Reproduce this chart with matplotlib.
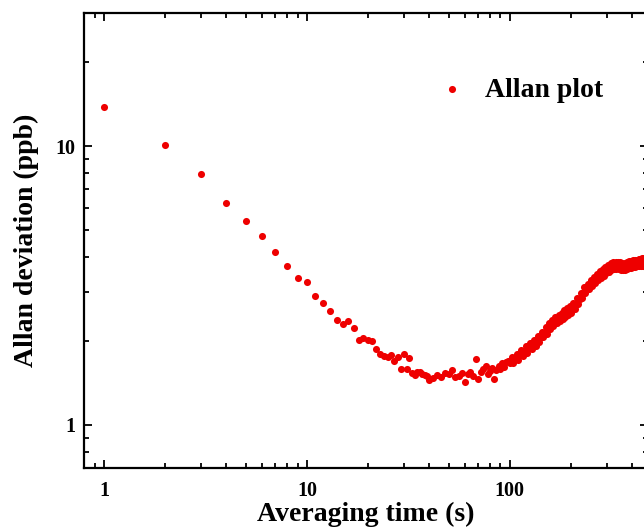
import matplotlib
matplotlib.use("Agg")
import matplotlib.pyplot as plt
from matplotlib.ticker import LogLocator, FixedLocator, FixedFormatter, NullFormatter

plt.rcParams["font.family"] = ["Liberation Serif", "DejaVu Serif"]
plt.rcParams["font.weight"] = "bold"

# averaging time (s)
tau = [
    1, 2, 3, 4, 5, 6, 7, 8, 9, 10,
    11, 12, 13, 14, 15, 16, 17, 18, 19, 20,
    21, 22, 23, 24, 25, 26, 27, 28, 29, 30,
    31, 32, 33, 34, 35, 36, 37, 38, 39, 40,
    42, 44, 46, 48, 50, 52, 54, 56, 58, 60,
    62, 64, 66, 68, 70, 72, 74, 76, 78, 80,
    82, 84, 86, 88, 90, 92, 94, 96, 98, 100,
    102, 104, 106, 108, 110, 112, 114, 116, 118, 120,
    122, 124, 126, 128, 130, 132, 134, 136, 138, 140,
    142, 144, 146, 148, 150, 152, 154, 156, 158, 160,
    162, 164, 166, 168, 170, 172, 174, 176, 178, 180,
    182, 184, 186, 188, 190, 192, 194, 196, 198, 200,
    203, 206, 209, 212, 215, 218, 221, 224, 227, 230,
    233, 236, 239, 242, 245, 248, 251, 254, 257, 260,
    263, 266, 269, 272, 275, 278, 281, 284, 287, 290,
    293, 296, 299, 302, 305, 308, 311, 314, 317, 320,
    323, 326, 329, 332, 335, 338, 341, 344, 347, 350,
    353, 356, 359, 362, 365, 368, 371, 374, 377, 380,
    383, 386, 389, 392, 395, 398, 401, 404, 407, 410,
    413, 416, 419, 422, 425, 428, 431, 434, 437, 440,
    443, 446, 449, 452, 455, 458, 461, 464, 467, 470,
]

# Allan deviation (ppb)
adev = [
    13.8, 10.1, 7.92, 6.26, 5.39, 4.76, 4.18, 3.72, 3.35, 3.26,
    2.89, 2.74, 2.57, 2.38, 2.30, 2.35, 2.23, 2.02, 2.04, 2.01,
    1.99, 1.87, 1.80, 1.76, 1.75, 1.78, 1.70, 1.75, 1.59, 1.80,
    1.59, 1.74, 1.53, 1.51, 1.55, 1.55, 1.52, 1.51, 1.50, 1.45,
    1.47, 1.51, 1.48, 1.53, 1.52, 1.57, 1.49, 1.50, 1.54, 1.42,
    1.52, 1.55, 1.50, 1.72, 1.46, 1.55, 1.59, 1.63, 1.52, 1.56,
    1.60, 1.46, 1.57, 1.62, 1.58, 1.66, 1.61, 1.68, 1.70, 1.66,
    1.75, 1.66, 1.72, 1.79, 1.71, 1.78, 1.85, 1.77, 1.84, 1.91,
    1.81, 1.89, 1.97, 1.87, 1.94, 2.02, 1.92, 2.00, 2.08, 1.98,
    2.07, 2.15, 2.06, 2.14, 2.24, 2.12, 2.22, 2.31, 2.20, 2.29,
    2.38, 2.26, 2.35, 2.44, 2.31, 2.40, 2.48, 2.36, 2.44, 2.52,
    2.40, 2.48, 2.58, 2.43, 2.53, 2.62, 2.48, 2.57, 2.67, 2.52,
    2.63, 2.74, 2.61, 2.72, 2.84, 2.72, 2.83, 2.97, 2.84, 2.98,
    3.11, 2.97, 3.09, 3.21, 3.06, 3.18, 3.31, 3.14, 3.27, 3.40,
    3.22, 3.35, 3.47, 3.30, 3.42, 3.55, 3.37, 3.49, 3.63, 3.43,
    3.56, 3.69, 3.49, 3.62, 3.74, 3.54, 3.66, 3.79, 3.59, 3.71,
    3.83, 3.62, 3.74, 3.85, 3.63, 3.74, 3.85, 3.62, 3.73, 3.83,
    3.60, 3.71, 3.81, 3.59, 3.70, 3.81, 3.59, 3.71, 3.83, 3.62,
    3.74, 3.86, 3.65, 3.76, 3.88, 3.66, 3.78, 3.89, 3.68, 3.79,
    3.91, 3.69, 3.80, 3.91, 3.70, 3.81, 3.93, 3.71, 3.82, 3.93,
    3.72, 3.83, 3.96, 3.72, 3.84, 3.97, 3.73, 3.85, 3.98, 3.74,
]

x_ticks = [1, 10, 100]
x_tick_labels = ["1", "10", "100"]
y_ticks = [1, 10]
y_tick_labels = ["1", "10"]

W, H = 644, 528
fig = plt.figure(figsize=(W / 100, H / 100), dpi=100)
# right spine sits just past the right edge of the picture (cropped like the original)
ax = fig.add_axes([84 / W, 60 / H, (648 - 84) / W, (468 - 13) / H])

ax.scatter(tau, adev, s=26, color="#ee0000", linewidths=0, label="Allan plot", zorder=3)

ax.set_xscale("log")
ax.set_yscale("log")
ax.set_xlim(0.797, 480)
ax.set_ylim(0.70, 30)

ax.xaxis.set_major_locator(FixedLocator(x_ticks))
ax.xaxis.set_major_formatter(FixedFormatter(x_tick_labels))
ax.xaxis.set_minor_locator(LogLocator(base=10, subs=range(2, 10)))
ax.xaxis.set_minor_formatter(NullFormatter())
ax.yaxis.set_major_locator(FixedLocator(y_ticks))
ax.yaxis.set_major_formatter(FixedFormatter(y_tick_labels))
ax.yaxis.set_minor_locator(LogLocator(base=10, subs=range(2, 10)))
ax.yaxis.set_minor_formatter(NullFormatter())

ax.tick_params(which="both", direction="in", top=True, right=True, width=1.3)
ax.tick_params(which="major", length=6)
ax.tick_params(which="minor", length=3.5)
ax.tick_params(axis="x", which="major", labelsize=14.5, pad=9)
ax.tick_params(axis="y", which="major", labelsize=14.5, pad=6)
for lab in ax.get_xticklabels() + ax.get_yticklabels():
    lab.set_fontweight("bold")

for sp in ax.spines.values():
    sp.set_linewidth(1.6)

ax.set_xlabel("Averaging time (s)", fontsize=20, fontweight="bold", labelpad=1)
ax.set_ylabel("Allan deviation (ppb)", fontsize=20, fontweight="bold", labelpad=12)

ax.legend(loc="center left", bbox_to_anchor=(438 / W, 1 - 90 / H),
          bbox_transform=fig.transFigure, frameon=False, scatterpoints=1,
          borderpad=0, borderaxespad=0, handlelength=1.0, handletextpad=0.7,
          prop={"size": 20, "weight": "bold"})

fig.savefig("out.png", dpi=100)
